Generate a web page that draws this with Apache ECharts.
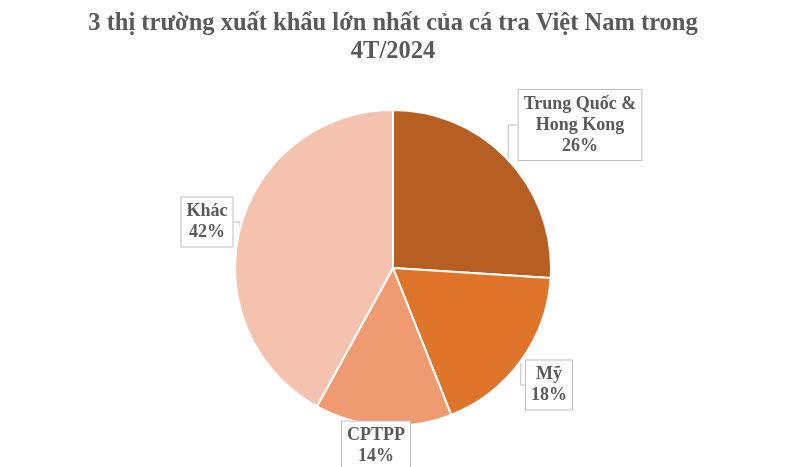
<!DOCTYPE html>
<html lang="vi">
<head>
<meta charset="utf-8">
<title>Cá tra Việt Nam 4T/2024</title>
<script src="https://cdn.jsdelivr.net/npm/echarts@6/dist/echarts.min.js"></script>
<style>
  html, body { margin: 0; padding: 0; background: #fff; }
  #chart1 { width: 786px; height: 467px; }
</style>
</head>
<body>
<div id="chart1"></div>
<script type="text/javascript">
// du lieu doc tu hinh
var thiTruong = ['Trung Quốc & Hong Kong', 'Mỹ', 'CPTPP', 'Khác'];
var tyTrong = [26, 18, 14, 42];
var mauSac = ['#B75F22', '#DF742B', '#EF9A71', '#F4C2AE'];

// vi tri cac nhan (tam hop)
var viTriNhan = [[580, 125], [549, 385], [376, 446], [207, 222]];

var myChart = echarts.init(document.getElementById('chart1'));
myChart.setOption({
    animation: false,
    title: {
        text: '3 thị trường xuất khẩu lớn nhất của cá tra Việt Nam trong\n4T/2024',
        left: 'center',
        top: 10,
        padding: 0,
        textStyle: {
            fontFamily: 'Liberation Serif',
            fontSize: 24.5,
            fontWeight: 'bold',
            color: '#595959',
            lineHeight: 28
        }
    },
    series: [{
        type: 'pie',
        center: [393, 268],
        radius: [0, 158],
        startAngle: 90,
        clockwise: true,
        itemStyle: { borderColor: '#fff', borderWidth: 2 },
        label: {
            show: true,
            position: 'outside',
            formatter: function (p) {
                return p.name.replace(' & ', ' &\n') + '\n' + p.percent + '%';
            },
            fontFamily: 'Liberation Serif',
            fontSize: 18,
            fontWeight: 'bold',
            color: '#595959',
            lineHeight: 21,
            align: 'center',
            backgroundColor: '#fff',
            borderColor: '#BFBFBF',
            borderWidth: 1,
            padding: [4, 5, 3, 5]
        },
        labelLine: {
            show: true,
            length: 10,
            length2: 10,
            lineStyle: { color: '#BFBFBF', width: 1 }
        },
        labelLayout: function (params) {
            var v = viTriNhan[params.dataIndex];
            return { x: v[0], y: v[1], align: 'center', verticalAlign: 'middle' };
        },
        data: thiTruong.map(function (n, i) {
            return { name: n, value: tyTrong[i], itemStyle: { color: mauSac[i] } };
        })
    }]
});
</script>
</body>
</html>
